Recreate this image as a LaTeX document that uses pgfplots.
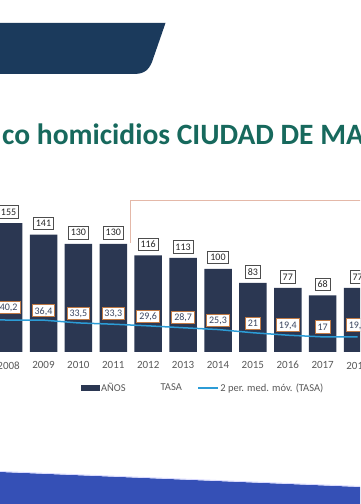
\documentclass[border=0pt]{standalone}
\usepackage{pgfplots}
\pgfplotsset{compat=1.18}
\usepackage{fontspec}
\setmainfont{Carlito}
\definecolor{navybar}{HTML}{2B3752}
\definecolor{banner}{HTML}{1B3A5C}
\definecolor{titlegreen}{HTML}{17695D}
\definecolor{mablue}{HTML}{2C9CD6}
\definecolor{lblgrey}{HTML}{4D4D4D}
\definecolor{tasabord}{HTML}{C07A45}
\definecolor{tasatext}{HTML}{3B4660}
\definecolor{bottomblue}{HTML}{3550B6}
\definecolor{salmon}{HTML}{E4B8A8}
\definecolor{tickgrey}{HTML}{595959}
\begin{document}
\begin{tikzpicture}
\useasboundingbox (0pt,0pt) rectangle (360pt,504pt);
\clip (0pt,0pt) rectangle (360pt,504pt);
\fill[white] (0pt,0pt) rectangle (360pt,504pt);
% banner
\fill[banner] (0pt,481pt) -- (165.5pt,481pt) -- (152pt,442pt) .. controls (148pt,432pt) and (142pt,430pt) .. (133pt,430pt) -- (0pt,430pt) -- cycle;
% bottom band
\fill[bottomblue] (0pt,32pt) -- (360pt,17pt) -- (360pt,0pt) -- (0pt,0pt) -- cycle;
\draw[blue!15, line width=0.8pt] (0pt,32.6pt) -- (360pt,17.6pt);
% title
\node[anchor=base west, text=titlegreen, font=\fontsize{29.5}{32}\selectfont\bfseries, inner sep=0pt] at (2pt,359pt) {co homicidios CIUDAD DE MA};
% highlight frame
\draw[salmon, line width=0.8pt] (130pt,261pt) -- (130pt,304pt) -- (365pt,304pt);
\begin{axis}[
  at={(-26.3pt,152pt)}, anchor=south west,
  scale only axis, width=418.8pt, height=166.4pt,
  xmin=2007, xmax=2019, ymin=0, ymax=200,
  /pgf/number format/assume math mode=true,
  /pgf/number format/use comma,
  /pgf/number format/1000 sep={},
  axis line style={draw=none},
  major tick length=0pt,
  ymajorticks=false,
  xtick={2008,2009,...,2018},
  xticklabel style={font=\fontsize{11}{13}\selectfont, text=tickgrey, yshift=-6pt},
  clip=false,
  legend columns=3,
  legend style={at={(0.5475,-0.216)}, anchor=center, draw=none, fill=none,
    font=\fontsize{10.5}{12}\selectfont, text=tickgrey,
    nodes={inner xsep=1.5pt},
    /tikz/every even column/.append style={column sep=14pt}},
  legend cell align=left,
]
% bars
\addplot[ybar, bar width=27.5pt, fill=navybar, draw=none, forget plot,
  nodes near coords,
  every node near coord/.append style={anchor=south, yshift=4.5pt, fill=white, draw=lblgrey,
    line width=0.8pt, inner xsep=2.5pt, inner ysep=3pt, text height=6.5pt, text depth=0pt,
    font=\fontsize{10}{12}\selectfont, text=black!85}]
  coordinates {(2008,155) (2009,141) (2010,130) (2011,130) (2012,116) (2013,113) (2014,100) (2015,83) (2016,77) (2017,68) (2018,77)};
% moving average
\addplot[mablue, line width=1.5pt, forget plot]
  coordinates {(2007,39.0) (2008,38.4) (2009,38.3) (2010,34.95) (2011,33.4) (2012,31.45) (2013,29.15) (2014,27.0) (2015,23.15) (2016,20.2) (2017,18.2) (2018,18.2)};
% TASA (labels only)
\addplot[draw=none, forget plot,
  nodes near coords,
  every node near coord/.append style={anchor=south, yshift=4.5pt, fill=white, draw=tasabord,
    line width=0.8pt, inner xsep=2.5pt, inner ysep=2.8pt, text height=6.5pt, text depth=0pt,
    font=\fontsize{10}{12}\selectfont, text=tasatext}]
  coordinates {(2008,40.2) (2009,36.4) (2010,33.5) (2011,33.3) (2012,29.6) (2013,28.7) (2014,25.3) (2015,21) (2016,19.4) (2017,17) (2018,19.4)};
\addlegendimage{legend image code/.code={\fill[navybar] (0pt,-2.5pt) rectangle (18pt,2.5pt);}}
\addlegendentry{AÑOS}
\addlegendimage{legend image code/.code={\node[draw=none, fill=none, inner sep=0pt, minimum width=18pt, minimum height=1pt] at (9pt,0pt) {};}}
\addlegendentry{TASA}
\addlegendimage{legend image code/.code={\draw[mablue, line width=1.5pt] (0pt,0pt) -- (20pt,0pt);}}
\addlegendentry{2 per. med. móv. (TASA)}
\end{axis}
\end{tikzpicture}
\end{document}
